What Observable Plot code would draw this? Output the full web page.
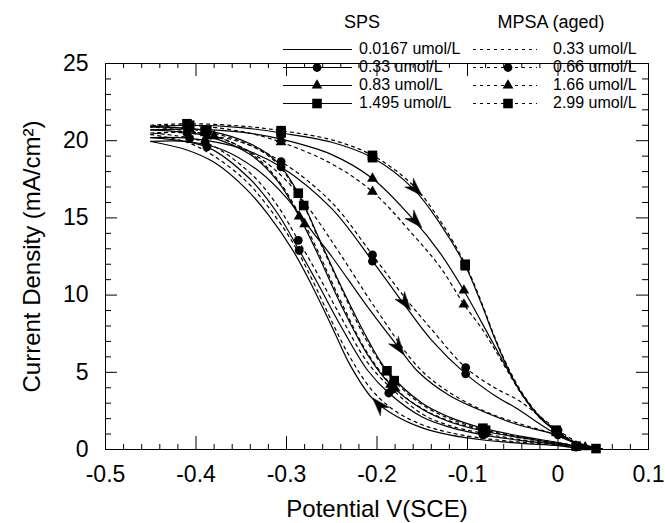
<!DOCTYPE html>
<html><head><meta charset="utf-8">
<script src="https://cdn.jsdelivr.net/npm/d3@7"></script>
<script src="https://cdn.jsdelivr.net/npm/@observablehq/plot@0.6"></script>
<style>
body{margin:0;background:#fff;}
#chart{width:665px;height:523px;}
</style>
</head><body><div id="chart"></div>
<script>
// ---- axis ticks / labels ----
const xMajor = [-0.5, -0.4, -0.3, -0.2, -0.1, 0, 0.1];
const xTickLabels = ["-0.5", "-0.4", "-0.3", "-0.2", "-0.1", "0", "0.1"];
const yMajor = [0, 5, 10, 15, 20, 25];
const yTickLabels = ["0", "5", "10", "15", "20", "25"];
const xTitle = "Potential V(SCE)";
const yTitle = "Current Density (mA/cm²)";

// ---- series: [potential, current, marker flag] ; F = negative-going scan, R = positive-going scan ----
const sps0167F = [[0.05,0],[0.02,0.1],[0,0.25],[-0.04,0.4],[-0.08,0.6],[-0.12,0.95],[-0.15,1.4],[-0.18,2.2],[-0.205,3.3],[-0.23,5.5],[-0.247,7.6],[-0.27,10.4],[-0.293,12.9],[-0.32,15.2],[-0.345,16.9],[-0.38,18.6],[-0.41,19.4],[-0.45,19.95]];
const sps0167R = [[-0.45,19.95],[-0.41,19.95],[-0.37,19.4],[-0.33,18.0],[-0.3,16.3],[-0.27,14.0],[-0.25,12.5],[-0.21,9.2],[-0.176,6.6],[-0.154,5.0],[-0.12,3.5],[-0.08,2.4],[-0.044,1.6],[-0.008,1.05],[0.02,0.4],[0.05,0]];

const sps033F = [[0.05,0],[0.02,0.15,1],[0,0.33],[-0.04,0.58],[-0.083,0.95,1],[-0.12,1.45],[-0.15,2.1],[-0.187,3.66,1],[-0.21,5.1],[-0.24,8.0],[-0.265,10.7],[-0.286,12.9,1],[-0.31,15.3],[-0.34,17.5],[-0.388,19.6,1],[-0.45,20.2]];
const sps033R = [[-0.45,20.2],[-0.407,20.15,1],[-0.35,19.5],[-0.306,18.3,1],[-0.25,15.6],[-0.205,12.2,1],[-0.17,9.4],[-0.14,7.1],[-0.102,4.9,1],[-0.07,3.5],[-0.044,2.6],[-0.02,1.65],[0,0.95,1],[0.025,0.3],[0.05,0]];

const sps083F = [[0.05,0],[0.02,0.2,1],[0,0.4],[-0.04,0.75],[-0.083,1.2,1],[-0.12,1.8],[-0.15,2.6],[-0.185,4.2,1],[-0.21,6.1],[-0.24,9.4],[-0.265,12.6],[-0.286,15.1,1],[-0.31,17.4],[-0.34,19.1],[-0.388,20.3,1],[-0.45,20.7]];
const sps083R = [[-0.45,20.7],[-0.407,20.75,1],[-0.35,20.55],[-0.306,20.1,1],[-0.25,19.1],[-0.205,17.55,1],[-0.16,14.9],[-0.13,12.7],[-0.104,10.3,1],[-0.085,8.3],[-0.07,6.7],[-0.055,5.1],[-0.04,3.6],[-0.02,2.05],[0,1.1,1],[0.02,0.4],[0.05,0]];

const sps1495F = [[0.05,0],[0.02,0.22,1],[0,0.45],[-0.04,0.85],[-0.083,1.38,1],[-0.12,2.1],[-0.15,3.0],[-0.189,5.1,1],[-0.21,7.1],[-0.24,10.6],[-0.265,13.8],[-0.287,16.6,1],[-0.31,18.6],[-0.34,19.8],[-0.388,20.65,1],[-0.45,20.9]];
const sps1495R = [[-0.45,20.9],[-0.407,21.0,1],[-0.35,20.85],[-0.306,20.5,1],[-0.25,19.9],[-0.205,18.9,1],[-0.16,16.9],[-0.13,14.6],[-0.1025,11.9,1],[-0.085,9.5],[-0.07,7.2],[-0.055,5.2],[-0.04,3.6],[-0.02,2.1],[-0.002,1.17,1],[0.02,0.4],[0.05,0]];

const mpsa033F = [[0.05,0],[0.02,0.12],[0,0.3],[-0.04,0.47],[-0.08,0.7],[-0.12,1.1],[-0.15,1.6],[-0.18,2.5],[-0.205,3.8],[-0.23,6.0],[-0.25,8.3],[-0.27,10.8],[-0.293,13.4],[-0.32,15.7],[-0.345,17.4],[-0.38,19.0],[-0.41,19.9],[-0.45,20.4]];
const mpsa033R = [[-0.45,20.4],[-0.41,20.6],[-0.37,20.1],[-0.33,18.9],[-0.3,17.4],[-0.27,15.2],[-0.24,12.6],[-0.2,9.0],[-0.154,5.3],[-0.12,3.7],[-0.08,2.45],[-0.044,1.7],[-0.01,1.1],[0.02,0.45],[0.05,0]];

const mpsa066F = [[0.05,0],[0.02,0.18,1],[0,0.38],[-0.04,0.63],[-0.08,1.02,1],[-0.12,1.55],[-0.15,2.3],[-0.183,3.9,1],[-0.21,5.6],[-0.24,8.6],[-0.265,11.3],[-0.287,13.55,1],[-0.31,15.8],[-0.34,17.9],[-0.39,19.9,1],[-0.45,20.5]];
const mpsa066R = [[-0.45,20.5],[-0.41,20.5,1],[-0.35,19.9],[-0.306,18.65,1],[-0.25,16.0],[-0.205,12.6,1],[-0.17,9.9],[-0.14,7.8],[-0.102,5.3,1],[-0.07,4.0],[-0.044,3.2],[-0.02,2.15],[0,1.25,1],[0.025,0.38],[0.05,0]];

const mpsa166F = [[0.05,0],[0.03,0.15,1],[0,0.43],[-0.04,0.78],[-0.08,1.22,1],[-0.12,1.85],[-0.15,2.65],[-0.18,3.95,1],[-0.21,6.2],[-0.24,9.6],[-0.265,12.8],[-0.28,14.6,1],[-0.31,17.5],[-0.34,19.2],[-0.38,20.3,1],[-0.45,20.9]];
const mpsa166R = [[-0.45,20.9],[-0.41,21.0,1],[-0.35,20.6],[-0.306,19.9,1],[-0.25,18.5],[-0.205,16.7,1],[-0.16,13.9],[-0.13,11.8],[-0.104,9.4,1],[-0.085,7.9],[-0.07,6.5],[-0.055,5.0],[-0.04,3.55],[-0.02,2.05],[0,1.15,1],[0.02,0.42],[0.05,0]];

const mpsa299F = [[0.05,0],[0.042,0.06,1],[0,0.42],[-0.04,0.8],[-0.08,1.25,1],[-0.12,2.0],[-0.15,2.9],[-0.181,4.46,1],[-0.21,6.9],[-0.24,10.5],[-0.265,13.7],[-0.281,15.8,1],[-0.31,18.5],[-0.34,19.7],[-0.39,20.6,1],[-0.45,21.0]];
const mpsa299R = [[-0.45,21.0],[-0.41,21.1,1],[-0.35,20.95],[-0.306,20.65,1],[-0.25,20.05],[-0.205,19.05,1],[-0.16,17.1],[-0.13,14.8],[-0.1025,12.0,1],[-0.085,9.6],[-0.07,7.3],[-0.055,5.3],[-0.04,3.7],[-0.02,2.15],[-0.002,1.25,1],[0.02,0.45],[0.05,0]];

// legend labels
const spsLabels = ["0.0167 umol/L", "0.33 umol/L", "0.83 umol/L", "1.495 umol/L"];
const mpsaLabels = ["0.33 umol/L", "0.66 umol/L", "1.66 umol/L", "2.99 umol/L"];
const symbols = [null, "circle", "triangle", "square"];

// scan-direction arrows
const arrowX = [-0.1575, -0.1575, -0.169, -0.176, -0.198];
const arrowY = [16.86, 14.8, 9.5, 6.6, 2.9];
const arrowDir = [135, 137, 143, 144, 318];

// ---- build tables ----
const series = [
  {name: "sps0167", dotted: false, sym: null, f: sps0167F, r: sps0167R},
  {name: "sps033", dotted: false, sym: "circle", f: sps033F, r: sps033R},
  {name: "sps083", dotted: false, sym: "triangle", f: sps083F, r: sps083R},
  {name: "sps1495", dotted: false, sym: "square", f: sps1495F, r: sps1495R},
  {name: "mpsa033", dotted: true, sym: null, f: mpsa033F, r: mpsa033R},
  {name: "mpsa066", dotted: true, sym: "circle", f: mpsa066F, r: mpsa066R},
  {name: "mpsa166", dotted: true, sym: "triangle", f: mpsa166F, r: mpsa166R},
  {name: "mpsa299", dotted: true, sym: "square", f: mpsa299F, r: mpsa299R}
];
const solidRows = [], dottedRows = [], markRows = [];
for (const s of series) {
  for (const [b, arr] of [["f", s.f], ["r", s.r]]) {
    for (const p of arr) {
      const row = {x: p[0], y: p[1], key: s.name + b};
      (s.dotted ? dottedRows : solidRows).push(row);
      if (p[2]) markRows.push({x: p[0], y: p[1], sym: s.sym});
    }
  }
}
const arrows = arrowX.map((x, i) => ({x, y: arrowY[i], a: arrowDir[i]}));

const W = 665, H = 523, mt = 63, mb = 74, ml = 105, mr = 17;
const innerW = W - ml - mr, innerH = H - mt - mb;
const xMinor = d3.range(-0.5, 0.1001, 0.02).filter(v => Math.abs(v * 10 - Math.round(v * 10)) > 1e-6);
const yMinor = d3.range(0, 25.01, 1).filter(v => v % 5 !== 0);
const font = "'Liberation Sans', Arial, Helvetica, sans-serif";
const R = {circle: 4.4, triangle: 4.0, square: 5.4};

const stealth = {
  draw(ctx, l, r) {
    ctx.moveTo(0, -l);
    ctx.lineTo(r, 0);
    ctx.lineTo(0, -l * 0.3);
    ctx.lineTo(-r, 0);
    ctx.closePath();
  }
};

const chart = Plot.plot({
  width: W, height: H,
  marginTop: mt, marginBottom: mb, marginLeft: ml, marginRight: mr,
  style: {fontFamily: font, fontSize: "23px", color: "black", background: "white", overflow: "visible"},
  x: {domain: [-0.5, 0.1]},
  y: {domain: [0, 25]},
  marks: [
    // inward ticks on all four sides
    Plot.ruleX(xMajor, {x: d => d, insetTop: innerH - 13, stroke: "black"}),
    Plot.ruleX(xMajor, {x: d => d, insetBottom: innerH - 13, stroke: "black"}),
    Plot.ruleX(xMinor, {x: d => d, insetTop: innerH - 5, stroke: "black"}),
    Plot.ruleX(xMinor, {x: d => d, insetBottom: innerH - 5, stroke: "black"}),
    Plot.ruleY(yMajor, {y: d => d, insetRight: innerW - 12, stroke: "black"}),
    Plot.ruleY(yMajor, {y: d => d, insetLeft: innerW - 12, stroke: "black"}),
    Plot.ruleY(yMinor, {y: d => d, insetRight: innerW - 6, stroke: "black"}),
    Plot.ruleY(yMinor, {y: d => d, insetLeft: innerW - 6, stroke: "black"}),
    Plot.axisX({ticks: xMajor, tickSize: 0, tickPadding: 16, tickFormat: (d, i) => xTickLabels[i], label: null}),
    Plot.axisY({ticks: yMajor, tickSize: 0, tickPadding: 17, tickFormat: (d, i) => yTickLabels[i], label: null}),
    Plot.text([xTitle], {frameAnchor: "bottom", lineAnchor: "middle", textAnchor: "middle", dy: 60, text: d => d, fontSize: 24}),
    Plot.text([yTitle], {frameAnchor: "left", lineAnchor: "middle", textAnchor: "middle", dx: -73, rotate: -90, text: d => d, fontSize: 24}),
    Plot.line(solidRows, {x: "x", y: "y", z: "key", curve: "catmull-rom", stroke: "black", strokeWidth: 1.2}),
    Plot.line(dottedRows, {x: "x", y: "y", z: "key", curve: "catmull-rom", stroke: "black", strokeWidth: 1.2, strokeDasharray: "3,4"}),
    Plot.dot(markRows.filter(d => d.sym === "circle"), {x: "x", y: "y", symbol: "circle", r: R.circle, fill: "black", stroke: "none"}),
    Plot.dot(markRows.filter(d => d.sym === "triangle"), {x: "x", y: "y", symbol: "triangle", r: R.triangle, fill: "black", stroke: "none"}),
    Plot.dot(markRows.filter(d => d.sym === "square"), {x: "x", y: "y", symbol: "square", r: R.square, fill: "black", stroke: "none"}),
    Plot.vector(arrows, {x: "x", y: "y", rotate: "a", length: 18, r: 6, anchor: "middle", shape: stealth, fill: "black", stroke: "black", strokeWidth: 0.5}),
    Plot.frame({stroke: "black", strokeWidth: 1})
  ]
});
document.getElementById("chart").appendChild(chart);

// ---- legend ----
const svg = d3.select(chart);
const lg = svg.append("g").attr("font-family", font).attr("fill", "black");
lg.append("text").attr("x", 362).attr("y", 23).attr("text-anchor", "middle").attr("dominant-baseline", "middle").attr("font-size", 18).text("SPS");
lg.append("text").attr("x", 551).attr("y", 23).attr("text-anchor", "middle").attr("dominant-baseline", "middle").attr("font-size", 18).text("MPSA (aged)");
const rowsY = [49.5, 67.5, 85.5, 103.5];
rowsY.forEach((yy, i) => {
  lg.append("line").attr("x1", 283).attr("x2", 352).attr("y1", yy).attr("y2", yy).attr("stroke", "black").attr("stroke-width", 1.2);
  lg.append("line").attr("x1", 473).attr("x2", 537).attr("y1", yy).attr("y2", yy).attr("stroke", "black").attr("stroke-width", 1.2).attr("stroke-dasharray", "3,4");
  if (symbols[i]) {
    const sym = {circle: d3.symbolCircle, triangle: d3.symbolTriangle, square: d3.symbolSquare}[symbols[i]];
    const p = d3.symbol(sym, Math.PI * R[symbols[i]] ** 2)();
    lg.append("path").attr("d", p).attr("transform", `translate(317,${yy})`);
    lg.append("path").attr("d", p).attr("transform", `translate(508,${yy})`);
  }
  lg.append("text").attr("x", 359).attr("y", yy).attr("text-anchor", "start").attr("dominant-baseline", "middle").attr("font-size", 16).text(spsLabels[i]);
  lg.append("text").attr("x", 553).attr("y", yy).attr("text-anchor", "start").attr("dominant-baseline", "middle").attr("font-size", 16).text(mpsaLabels[i]);
});
</script></body></html>
